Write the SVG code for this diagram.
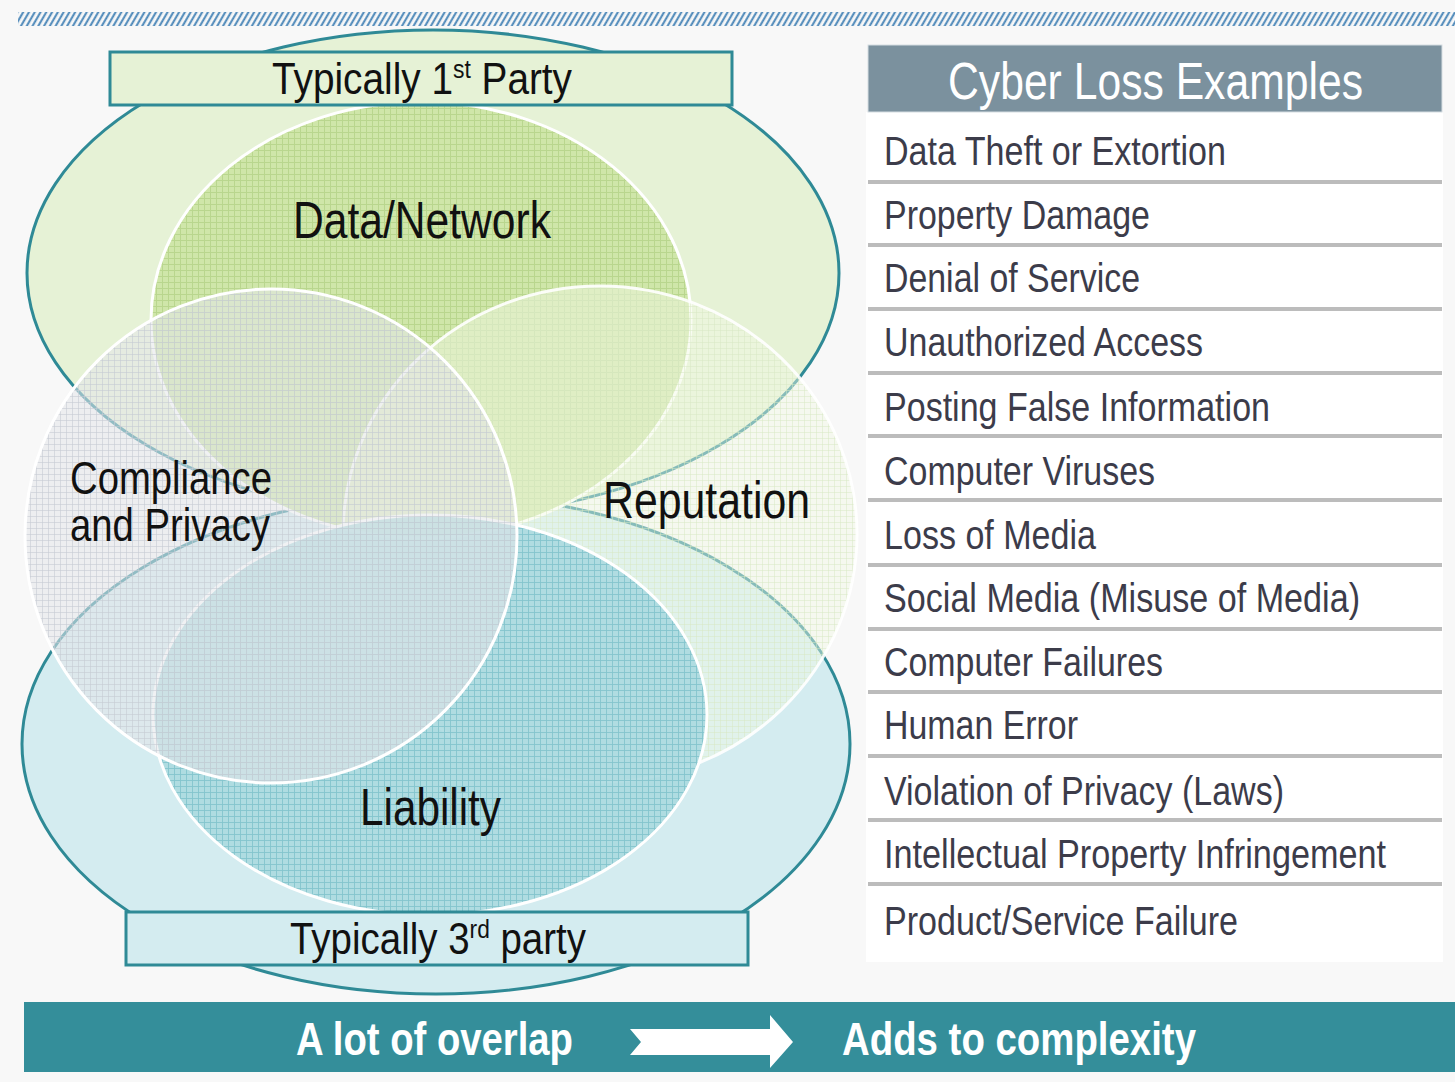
<svg xmlns="http://www.w3.org/2000/svg" width="1455" height="1082" viewBox="0 0 1455 1082">
<style>
.lbl{font-family:"Liberation Sans Narrow","Liberation Sans",Arial,sans-serif;fill:#111}
.item{font-family:"Liberation Sans Narrow","Liberation Sans",Arial,sans-serif;font-size:40px;fill:#3c3c4a}
.sep{stroke:#bcbcbc;stroke-width:4}
.outer{stroke:#2f8a96;stroke-width:3}
.inner{stroke:#ffffff;stroke-width:3}
.bar{font-family:"Liberation Sans Narrow","Liberation Sans",Arial,sans-serif;font-weight:bold;font-size:46px;fill:#ffffff}
</style>
<defs>
<pattern id="hatch" width="5" height="10" patternUnits="userSpaceOnUse" patternTransform="rotate(30)">
<line x1="1.2" y1="0" x2="1.2" y2="10" stroke="#4a86b8" stroke-width="2"/>
</pattern>
<pattern id="gG" width="6" height="6" patternUnits="userSpaceOnUse">
<rect width="6" height="6" fill="#cfe6a9"/>
<path d="M0 0.5H6M0.5 0V6" stroke="#b9d68e" stroke-width="1"/>
</pattern>
<pattern id="gR" width="6" height="6" patternUnits="userSpaceOnUse">
<rect width="6" height="6" fill="#f2f8e4" fill-opacity="0.45"/>
<path d="M0 0.5H6M0.5 0V6" stroke="#d7e8c4" stroke-width="1" stroke-opacity="0.5"/>
</pattern>
<pattern id="gL" width="6" height="6" patternUnits="userSpaceOnUse">
<rect width="6" height="6" fill="#a9d9df" fill-opacity="0.88"/>
<path d="M0 0.5H6M0.5 0V6" stroke="#84c5ce" stroke-width="1" stroke-opacity="0.9"/>
</pattern>
<pattern id="gC" width="6" height="6" patternUnits="userSpaceOnUse">
<rect width="6" height="6" fill="#e3e5e8" fill-opacity="0.55"/>
<path d="M0 0.5H6M0.5 0V6" stroke="#c6ccd4" stroke-width="1" stroke-opacity="0.6"/>
</pattern>
</defs>
<rect width="1455" height="1082" fill="#f8f8f8"/>
<rect x="18" y="12" width="1437" height="14" fill="url(#hatch)"/>

<g id="first-party-zone">
<ellipse class="outer" cx="433" cy="273" rx="406" ry="243" fill="#e6f2d6"/>
</g>
<g id="third-party-zone">
<ellipse class="outer" cx="436" cy="744" rx="414" ry="250" fill="#d4ecf0"/>
</g>
<g id="data-network">
<ellipse class="inner" cx="421" cy="320" rx="270" ry="218" fill="url(#gG)"/>
<text class="lbl" x="293" y="238" font-size="52" textLength="258" lengthAdjust="spacingAndGlyphs">Data/Network</text>
</g>
<g id="reputation">
<ellipse class="inner" cx="600" cy="534" rx="257" ry="248" fill="url(#gR)" stroke-opacity="0.9"/>
</g>
<g id="liability">
<ellipse class="inner" cx="430" cy="715" rx="277" ry="200" fill="url(#gL)"/>
</g>
<g id="compliance">
<ellipse class="inner" cx="271" cy="536" rx="246" ry="247" fill="url(#gC)"/>
</g>
<g id="labels">
<text class="lbl" x="603" y="518" font-size="52" textLength="207" lengthAdjust="spacingAndGlyphs">Reputation</text>
<text class="lbl" x="360" y="825" font-size="52" textLength="141" lengthAdjust="spacingAndGlyphs">Liability</text>
<text class="lbl" x="70" y="494" font-size="46" textLength="202" lengthAdjust="spacingAndGlyphs">Compliance</text>
<text class="lbl" x="70" y="541" font-size="46" textLength="200" lengthAdjust="spacingAndGlyphs">and Privacy</text>
</g>
<g id="first-party-label">
<rect x="110" y="52" width="622" height="53" fill="#e6f2d6" stroke="#2f8a96" stroke-width="3"/>
<text class="lbl" x="272" y="94" font-size="44" textLength="300" lengthAdjust="spacingAndGlyphs">Typically 1<tspan font-size="26" dy="-16">st</tspan><tspan dy="16"> Party</tspan></text>
</g>
<g id="third-party-label">
<rect x="126" y="912" width="622" height="53" fill="#d4ecf0" stroke="#2f8a96" stroke-width="3"/>
<text class="lbl" x="290" y="954" font-size="44" textLength="296" lengthAdjust="spacingAndGlyphs">Typically 3<tspan font-size="26" dy="-16">rd</tspan><tspan dy="16"> party</tspan></text>
</g>

<g id="loss-examples">
<rect x="866" y="112" width="577" height="850" fill="#ffffff"/>
<rect x="868" y="45" width="574" height="67" fill="#7b919e" stroke="#d6dde2" stroke-width="1"/>
<text x="948" y="99" font-family="'Liberation Sans Narrow','Liberation Sans',Arial,sans-serif" font-size="52" fill="#ffffff" textLength="415" lengthAdjust="spacingAndGlyphs">Cyber Loss Examples</text>
<line class="sep" x1="868" y1="182" x2="1442" y2="182"/>
<line class="sep" x1="868" y1="245" x2="1442" y2="245"/>
<line class="sep" x1="868" y1="309" x2="1442" y2="309"/>
<line class="sep" x1="868" y1="373" x2="1442" y2="373"/>
<line class="sep" x1="868" y1="436" x2="1442" y2="436"/>
<line class="sep" x1="868" y1="500" x2="1442" y2="500"/>
<line class="sep" x1="868" y1="565" x2="1442" y2="565"/>
<line class="sep" x1="868" y1="629" x2="1442" y2="629"/>
<line class="sep" x1="868" y1="692" x2="1442" y2="692"/>
<line class="sep" x1="868" y1="756" x2="1442" y2="756"/>
<line class="sep" x1="868" y1="820" x2="1442" y2="820"/>
<line class="sep" x1="868" y1="884" x2="1442" y2="884"/>
<text class="item" x="884" y="165" textLength="342" lengthAdjust="spacingAndGlyphs">Data Theft or Extortion</text>
<text class="item" x="884" y="229" textLength="266" lengthAdjust="spacingAndGlyphs">Property Damage</text>
<text class="item" x="884" y="292" textLength="256" lengthAdjust="spacingAndGlyphs">Denial of Service</text>
<text class="item" x="884" y="356" textLength="319" lengthAdjust="spacingAndGlyphs">Unauthorized Access</text>
<text class="item" x="884" y="421" textLength="386" lengthAdjust="spacingAndGlyphs">Posting False Information</text>
<text class="item" x="884" y="485" textLength="271" lengthAdjust="spacingAndGlyphs">Computer Viruses</text>
<text class="item" x="884" y="549" textLength="212" lengthAdjust="spacingAndGlyphs">Loss of Media</text>
<text class="item" x="884" y="612" textLength="476" lengthAdjust="spacingAndGlyphs">Social Media (Misuse of Media)</text>
<text class="item" x="884" y="676" textLength="279" lengthAdjust="spacingAndGlyphs">Computer Failures</text>
<text class="item" x="884" y="739" textLength="194" lengthAdjust="spacingAndGlyphs">Human Error</text>
<text class="item" x="884" y="805" textLength="400" lengthAdjust="spacingAndGlyphs">Violation of Privacy (Laws)</text>
<text class="item" x="884" y="868" textLength="502" lengthAdjust="spacingAndGlyphs">Intellectual Property Infringement</text>
<text class="item" x="884" y="935" textLength="354" lengthAdjust="spacingAndGlyphs">Product/Service Failure</text>
</g>

<g id="bottom-bar">
<rect x="24" y="1002" width="1431" height="70" fill="#348e9a"/>
<text class="bar" x="296" y="1055" textLength="277" lengthAdjust="spacingAndGlyphs">A lot of overlap</text>
<text class="bar" x="842" y="1055" textLength="354" lengthAdjust="spacingAndGlyphs">Adds to complexity</text>
</g>
<g id="connectors">
<path d="M630 1029 H770 V1015 L793 1042 L770 1068 V1055 H630 L641 1042 Z" fill="#ffffff"/>
</g>
</svg>
